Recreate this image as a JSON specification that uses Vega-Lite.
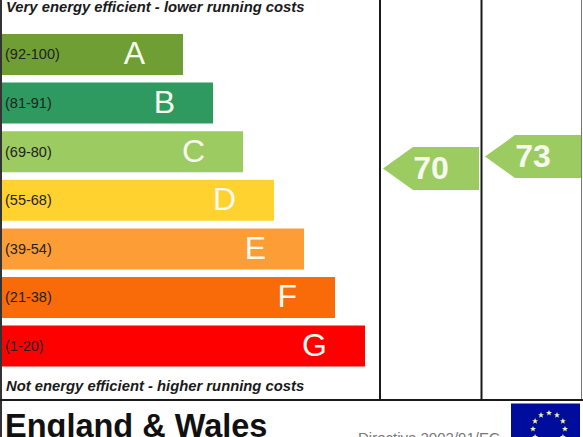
{
"$schema":"https://vega.github.io/schema/vega-lite/v6.json",
"width":583,"height":437,"padding":0,"autosize":{"type":"none"},
"background":"white",
"config":{"view":{"stroke":null},"axis":{"disable":true},"font":"Liberation Sans"},
"datasets":{
"bands":[
{"rating":"A","range":"(92-100)","row":1,"score":183,"color":"#6f9e34"},
{"rating":"B","range":"(81-91)","row":2,"score":213,"color":"#2f9a5f"},
{"rating":"C","range":"(69-80)","row":3,"score":243,"color":"#9ccb62"},
{"rating":"D","range":"(55-68)","row":4,"score":274,"color":"#ffd230"},
{"rating":"E","range":"(39-54)","row":5,"score":304,"color":"#fc9d36"},
{"rating":"F","range":"(21-38)","row":6,"score":335,"color":"#f96a08"},
{"rating":"G","range":"(1-20)","row":7,"score":365,"color":"#fe0000"}],
"arrows":[{"value":"70","col":431,"row":3.346},{"value":"73","col":533,"row":3.10}],
"stars":[{"c":549,"r":8.377},{"c":557,"r":8.42},{"c":562.9,"r":8.543},{"c":565,"r":8.706},{"c":562.9,"r":8.87},{"c":541,"r":8.42},{"c":535.1,"r":8.543},{"c":533,"r":8.706},{"c":535.1,"r":8.87}]
},
"layer":[
{"data":{"name":"bands"},"mark":{"type":"bar","orient":"horizontal","size":41},
 "encoding":{"x":{"field":"score","type":"quantitative","scale":{"domain":[0,583],"range":[0,583],"nice":false,"zero":false,"padding":0},"axis":null},
 "y":{"field":"row","type":"quantitative","scale":{"domain":[-0.1214,8.8704],"range":[0,437],"nice":false,"zero":false,"padding":0},"axis":null},
 "color":{"field":"color","type":"nominal","scale":null}}},
{"data":{"name":"bands"},"mark":{"type":"text","align":"left","baseline":"middle","fontSize":14.5,"dx":5,"dy":1,"color":"#222222"},
 "encoding":{"x":{"datum":0,"type":"quantitative"},"y":{"field":"row","type":"quantitative"},"text":{"field":"range"}}},
{"data":{"name":"bands"},"mark":{"type":"text","align":"right","baseline":"middle","fontSize":32,"dx":-38,"color":"#f6faee"},
 "encoding":{"x":{"field":"score","type":"quantitative"},"y":{"field":"row","type":"quantitative"},"text":{"field":"rating"}}},
{"data":{"values":[{"t":"Very energy efficient - lower running costs","row":0.023},{"t":"Not energy efficient - higher running costs","row":7.82}]},
 "mark":{"type":"text","align":"left","baseline":"middle","fontSize":14.8,"fontWeight":"bold","fontStyle":"italic","dx":6,"dy":1,"color":"#1a1a1a"},
 "encoding":{"x":{"datum":0,"type":"quantitative"},"y":{"field":"row","type":"quantitative"},"text":{"field":"t"}}},
{"data":{"values":[{"c":380,"a":-0.1214,"b":8.11,"k":"#1a1a1a","w":2},{"c":481.5,"a":-0.1214,"b":8.11,"k":"#1a1a1a","w":2},{"c":581.5,"a":-0.1214,"b":8.11,"k":"#777777","w":1},{"c":1,"a":-0.1214,"b":8.8704,"k":"#333333","w":2}]},
 "mark":{"type":"rule"},
 "encoding":{"x":{"field":"c","type":"quantitative"},"y":{"field":"a","type":"quantitative"},"y2":{"field":"b"},"color":{"field":"k","type":"nominal","scale":null},"strokeWidth":{"field":"w","type":"quantitative","scale":null}}},
{"data":{"values":[{"a":0,"b":583}]},"mark":{"type":"rule","color":"#1a1a1a","strokeWidth":2},
 "encoding":{"x":{"field":"a","type":"quantitative"},"x2":{"field":"b"},"y":{"datum":8.11,"type":"quantitative"}}},
{"data":{"name":"arrows"},"mark":{"type":"point","filled":true,"opacity":1,"color":"#9ccb62","size":4,"shape":"M-48,0L-18,-21.5L48,-21.5L48,21.5L-18,21.5Z"},
 "encoding":{"x":{"field":"col","type":"quantitative"},"y":{"field":"row","type":"quantitative"}}},
{"data":{"name":"arrows"},"mark":{"type":"text","align":"center","baseline":"middle","fontSize":32,"fontWeight":"bold","color":"#f6faee"},
 "encoding":{"x":{"field":"col","type":"quantitative"},"y":{"field":"row","type":"quantitative"},"text":{"field":"value"}}},
{"data":{"values":[{"t":"England & Wales","c":0,"r":8.8704}]},"mark":{"type":"text","align":"left","baseline":"alphabetic","fontSize":32.5,"fontWeight":"bold","dx":5,"color":"#111111"},
 "encoding":{"x":{"field":"c","type":"quantitative"},"y":{"field":"r","type":"quantitative"},"text":{"field":"t"}}},
{"data":{"values":[{"t":"Directive 2002/91/EC","c":358,"r":8.99}]},"mark":{"type":"text","align":"left","baseline":"alphabetic","fontSize":15,"color":"#777777"},
 "encoding":{"x":{"field":"c","type":"quantitative"},"y":{"field":"r","type":"quantitative"},"text":{"field":"t"}}},
{"data":{"values":[{"x":511,"x2":580,"y":8.18,"y2":8.8704}]},"mark":{"type":"rect","color":"#000d9c"},
 "encoding":{"x":{"field":"x","type":"quantitative"},"x2":{"field":"x2"},"y":{"field":"y","type":"quantitative"},"y2":{"field":"y2"}}},
{"data":{"name":"stars"},"mark":{"type":"point","filled":true,"opacity":1,"color":"#f3eeb0","size":4,"shape":"M0,-3L0.9,-0.9L3,-0.9L1.3,0.5L1.9,2.6L0,1.3L-1.9,2.6L-1.3,0.5L-3,-0.9L-0.9,-0.9Z"},
 "encoding":{"x":{"field":"c","type":"quantitative"},"y":{"field":"r","type":"quantitative"}}}
]
}
